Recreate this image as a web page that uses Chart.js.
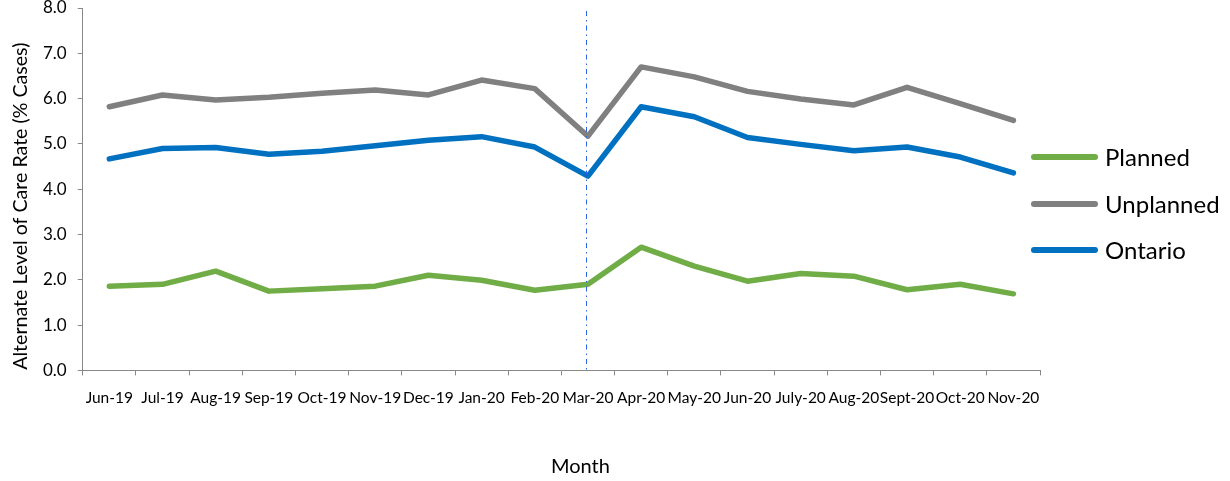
<!DOCTYPE html>
<html>
<head>
<meta charset="utf-8">
<script src="https://cdn.jsdelivr.net/npm/chart.js@4/dist/chart.umd.min.js"></script>
<style>
  html, body { margin: 0; padding: 0; background: #ffffff; }
  #wrap { width: 1230px; height: 481px; }
</style>
</head>
<body>
<div id="wrap"><canvas id="alc" width="1230" height="481"></canvas></div>
<script>
// Monthly ALC rates (% of cases)
const months = ['Jun-19','Jul-19','Aug-19','Sep-19','Oct-19','Nov-19','Dec-19','Jan-20','Feb-20','Mar-20',
                'Apr-20','May-20','Jun-20','July-20','Aug-20','Sept-20','Oct-20','Nov-20'];
const planned   = [1.86,1.90,2.19,1.75,1.80,1.86,2.10,1.99,1.77,1.90,2.72,2.30,1.97,2.14,2.08,1.78,1.90,1.69];
const unplanned = [5.82,6.08,5.97,6.03,6.12,6.19,6.08,6.41,6.22,5.17,6.70,6.48,6.16,5.99,5.86,6.25,5.89,5.52];
const ontario   = [4.67,4.90,4.92,4.77,4.84,4.96,5.08,5.16,4.93,4.29,5.82,5.60,5.14,4.99,4.85,4.93,4.71,4.36];
const seriesNames = ['Planned', 'Unplanned', 'Ontario'];
const markerMonth = 'Mar-20';
const yTicks = [0, 1, 2, 3, 4, 5, 6, 7, 8];
const xTitle = 'Month';
const yTitle = 'Alternate Level of Care Rate (% Cases)';

const FONT = 'Lato, "Open Sans", sans-serif';
const AXIS_GREY = '#888888';
const colors = ['#70AD47', '#808080', '#0070C0'];

// Dash-dot vertical marker at a given month
const markerLine = {
  id: 'markerLine',
  afterDatasetsDraw(chart) {
    const x = chart.scales.x.getPixelForValue(months.indexOf(markerMonth));
    const { top, bottom } = chart.chartArea;
    const ctx = chart.ctx;
    ctx.save();
    ctx.strokeStyle = '#2E64E8';
    ctx.lineWidth = 1;
    ctx.setLineDash([5, 4, 1.5, 4]);
    ctx.beginPath();
    ctx.moveTo(Math.round(x) - 1.5, top + 3);
    ctx.lineTo(Math.round(x) - 1.5, bottom);
    ctx.stroke();
    ctx.restore();
  }
};

// Axis titles, placed relative to the plot area
const axisTitles = {
  id: 'axisTitles',
  afterDraw(chart) {
    const ctx = chart.ctx;
    const a = chart.chartArea;
    ctx.save();
    ctx.fillStyle = '#000000';
    ctx.textAlign = 'center';
    ctx.textBaseline = 'middle';
    ctx.font = '20px ' + FONT;
    ctx.fillText(xTitle, (a.left + a.right) / 2 + 19, 467);
    ctx.translate(21, (a.top + a.bottom) / 2 + 17);
    ctx.rotate(-Math.PI / 2);
    ctx.font = '19.6px ' + FONT;
    ctx.fillText(yTitle, 0, 0);
    ctx.restore();
  }
};

// Legend to the right of the plot
const sideLegend = {
  id: 'sideLegend',
  afterDraw(chart) {
    const ctx = chart.ctx;
    const x0 = chart.chartArea.right - 8;
    const rows = [157, 204, 250];
    ctx.save();
    chart.data.datasets.forEach((ds, i) => {
      const y = rows[i];
      ctx.strokeStyle = ds.borderColor;
      ctx.lineWidth = 6;
      ctx.lineCap = 'round';
      ctx.beginPath();
      ctx.moveTo(x0 + 2, y);
      ctx.lineTo(x0 + 63, y);
      ctx.stroke();
      ctx.fillStyle = '#000000';
      ctx.font = '24px ' + FONT;
      ctx.textBaseline = 'middle';
      ctx.textAlign = 'left';
      ctx.fillText(ds.label, x0 + 73, y + 1);
    });
    ctx.restore();
  }
};

const mkSet = (label, data, color) => ({
  label, data,
  borderColor: color,
  backgroundColor: color,
  borderWidth: 5.5,
  borderCapStyle: 'round',
  borderJoinStyle: 'round',
  pointRadius: 0,
  pointHoverRadius: 0,
  tension: 0,
  fill: false
});

new Chart(document.getElementById('alc'), {
  type: 'line',
  data: {
    labels: months,
    datasets: [
      mkSet(seriesNames[0], planned, colors[0]),
      mkSet(seriesNames[1], unplanned, colors[1]),
      mkSet(seriesNames[2], ontario, colors[2])
    ]
  },
  options: {
    responsive: false,
    animation: false,
    devicePixelRatio: 1,
    layout: { padding: { left: 32, right: 190, top: 8, bottom: 61 } },
    plugins: {
      legend: { display: false },
      tooltip: { enabled: false }
    },
    scales: {
      x: {
        type: 'category',
        offset: true,
        grid: {
          offset: true,
          drawOnChartArea: false,
          drawTicks: true,
          tickLength: 5,
          color: AXIS_GREY
        },
        border: { color: AXIS_GREY, width: 1 },
        ticks: {
          autoSkip: false,
          maxRotation: 0,
          minRotation: 0,
          padding: 13,
          color: '#000000',
          font: { family: FONT, size: 15.5 }
        }
      },
      y: {
        min: 0,
        max: 8,
        afterBuildTicks(scale) { scale.ticks = yTicks.map(v => ({ value: v })); },
        afterFit(scale) { scale.paddingTop = 0; scale.paddingBottom = 0; },
        grid: {
          drawOnChartArea: false,
          drawTicks: true,
          tickLength: 5,
          color: AXIS_GREY
        },
        border: { color: AXIS_GREY, width: 1 },
        ticks: {
          padding: 11,
          color: '#000000',
          font: { family: FONT, size: 17 },
          callback: (v) => Number(v).toFixed(1)
        }
      }
    }
  },
  plugins: [markerLine, axisTitles, sideLegend]
});
</script>
</body>
</html>
